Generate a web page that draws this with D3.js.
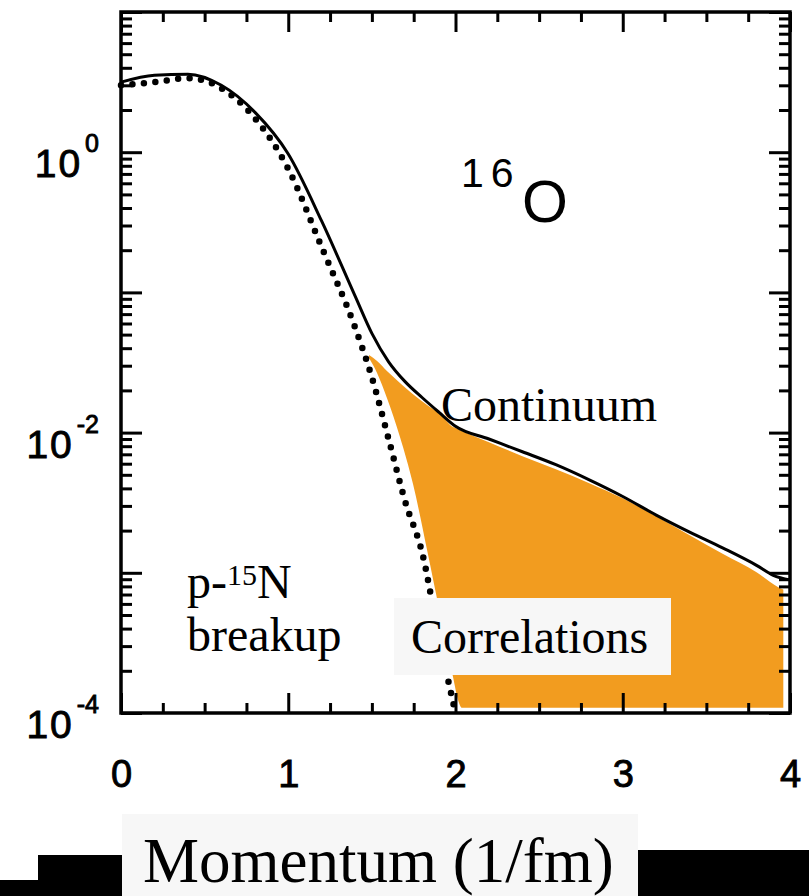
<!DOCTYPE html>
<html>
<head>
<meta charset="utf-8">
<script src="https://cdn.jsdelivr.net/npm/d3@7"></script>
<style>
  html, body { margin: 0; padding: 0; background: #fff; }
  svg { display: block; }
</style>
</head>
<body>
<script>
// Momentum distribution of 16O (log scale), momentum in 1/fm
const momentum  = [0, 0.2, 0.4, 0.6, 0.8, 1.0, 1.2, 1.4, 1.5, 1.6, 1.7, 1.8, 1.9, 2.0,
                   2.2, 2.4, 2.6, 2.8, 3.0, 3.2, 3.4, 3.6, 3.8, 3.9, 4.0];
const totalDist = [3.16, 3.54, 3.6, 3.0, 1.93, 0.97, 0.322, 0.094, 0.051, 0.032, 0.023, 0.0178, 0.014, 0.0111,
                   0.009, 0.0073, 0.0059, 0.0046, 0.0035, 0.00258, 0.00195, 0.0015, 0.00113, 0.00096, 0.00089];

// p-15N breakup (mean-field part), dotted
const mfMomentum = [0, 0.2, 0.4, 0.6, 0.8, 1.0, 1.2, 1.4, 1.5, 1.6, 1.7, 1.8, 1.9, 2.0];
const meanField  = [3.0, 3.16, 3.37, 2.86, 1.75, 0.76, 0.21, 0.056, 0.0248, 0.009, 0.0032, 0.0014, 0.00035, 0.0001];

// Correlations band (upper / lower edges)
const corrMomentum = [1.483, 1.531, 1.59, 1.668, 1.746, 1.83, 1.907, 1.985, 2.015, 2.039,
                      2.2, 2.4, 2.6, 2.8, 3.0, 3.2, 3.4, 3.6, 3.8, 3.93, 3.96];
const corrUpper    = [0.0357, 0.0324, 0.0275, 0.0226, 0.0188, 0.01574, 0.01358, 0.01096, 0.0106, 0.01026,
                      0.00855, 0.00679, 0.00548, 0.00436, 0.0034, 0.00253, 0.00185, 0.00136, 0.00101, 0.00079, 0.00076];
const corrLower    = [0.034, 0.0266, 0.01766, 0.00931, 0.0043, 0.001456, 0.000516, 0.000181, 0.000124, 0.000109,
                      0.000109, 0.000109, 0.000109, 0.000109, 0.000109, 0.000109, 0.000109, 0.000109, 0.000109, 0.000109, 0.000109];

const xMajorTicks = [0, 1, 2, 3, 4];
const xMinorTicks = [0.25, 0.5, 0.75, 1.25, 1.5, 1.75, 2.25, 2.5, 2.75, 3.25, 3.5, 3.75];
const yLabelExponents = [0, -2, -4];

const W = 809, H = 896;
const plot = { left: 121, right: 790, top: 12, bottom: 713 };

const x = d3.scaleLinear().domain([0, 4]).range([plot.left, plot.right]);
const y = d3.scaleLog().domain([1e-4, 1e1]).range([plot.bottom, plot.top]);

const svg = d3.select("body").append("svg")
  .attr("width", W).attr("height", H)
  .attr("viewBox", `0 0 ${W} ${H}`);

svg.append("rect").attr("width", W).attr("height", H).attr("fill", "#fff");

// Correlations band
const band = d3.area()
  .x(d => x(d.p))
  .y0(d => y(d.lo))
  .y1(d => y(d.hi))
  .curve(d3.curveMonotoneX);

svg.append("path")
  .datum(corrMomentum.map((p, i) => ({ p, lo: corrLower[i], hi: corrUpper[i] })))
  .attr("d", band)
  .attr("fill", "#f29c1f");

// Curves
const line = d3.line()
  .x(d => x(d[0]))
  .y(d => y(d[1]))
  .curve(d3.curveMonotoneX);

svg.append("path")
  .datum(momentum.map((p, i) => [p, totalDist[i]]))
  .attr("d", line)
  .attr("fill", "none")
  .attr("stroke", "#000")
  .attr("stroke-width", 3);

svg.append("path")
  .datum(mfMomentum.map((p, i) => [p, meanField[i]]))
  .attr("d", line)
  .attr("fill", "none")
  .attr("stroke", "#000")
  .attr("stroke-width", 6.5)
  .attr("stroke-linecap", "round")
  .attr("stroke-dasharray", "0 11.5");

// Axes (ticks point inward on all four sides)
function styleAxis(g) {
  g.select(".domain").remove();
  g.selectAll(".tick line").attr("stroke", "#000").attr("stroke-width", 3);
}

const tickFont = "'Liberation Sans', Arial, Helvetica, sans-serif";

svg.append("g")
  .attr("transform", `translate(0,${plot.bottom})`)
  .call(d3.axisBottom(x).tickValues(xMajorTicks).tickSizeInner(-20).tickSizeOuter(0)
    .tickPadding(47).tickFormat(d3.format("d")))
  .call(styleAxis)
  .call(g => g.selectAll("text")
    .attr("fill", "#000")
    .attr("stroke", "#000")
    .attr("stroke-width", 0.9)
    .style("font-family", tickFont)
    .style("font-size", "38px"));

svg.append("g")
  .attr("transform", `translate(0,${plot.bottom})`)
  .call(d3.axisBottom(x).tickValues(xMinorTicks).tickSizeInner(-10).tickSizeOuter(0).tickFormat(""))
  .call(styleAxis);

svg.append("g")
  .attr("transform", `translate(0,${plot.top})`)
  .call(d3.axisTop(x).tickValues(xMajorTicks).tickSizeInner(-20).tickSizeOuter(0).tickFormat(""))
  .call(styleAxis);

svg.append("g")
  .attr("transform", `translate(0,${plot.top})`)
  .call(d3.axisTop(x).tickValues(xMinorTicks).tickSizeInner(-10).tickSizeOuter(0).tickFormat(""))
  .call(styleAxis);

const yAll = y.ticks();
const yMajor = yAll.filter(v => Math.abs(Math.log10(v) - Math.round(Math.log10(v))) < 1e-9);
const yMinor = yAll.filter(v => !yMajor.includes(v));

[[d3.axisLeft, plot.left], [d3.axisRight, plot.right]].forEach(([axisFn, pos]) => {
  svg.append("g")
    .attr("transform", `translate(${pos},0)`)
    .call(axisFn(y).tickValues(yMajor).tickSizeInner(-21).tickSizeOuter(0).tickFormat(""))
    .call(styleAxis);
  svg.append("g")
    .attr("transform", `translate(${pos},0)`)
    .call(axisFn(y).tickValues(yMinor).tickSizeInner(-11).tickSizeOuter(0).tickFormat(""))
    .call(styleAxis);
});

// Y tick labels: powers of ten
yLabelExponents.forEach(e => {
  const t = svg.append("text")
    .attr("x", 99)
    .attr("y", y(Math.pow(10, e)) + 25)
    .attr("text-anchor", "end")
    .attr("fill", "#000")
    .attr("stroke", "#000")
    .attr("stroke-width", 0.9)
    .style("font-family", tickFont)
    .style("font-size", "39px");
  t.append("tspan").style("letter-spacing", "2px").text("10");
  t.append("tspan")
    .attr("dx", 3)
    .attr("dy", -25)
    .style("font-size", "25px")
    .text(e < 0 ? "-" + Math.abs(e) : String(e));
});

// Frame
svg.append("rect")
  .attr("x", plot.left).attr("y", plot.top)
  .attr("width", plot.right - plot.left)
  .attr("height", plot.bottom - plot.top)
  .attr("fill", "none")
  .attr("stroke", "#000")
  .attr("stroke-width", 3.5);

// Nucleus label
const nuc = svg.append("text")
  .attr("fill", "#000")
  .style("font-family", tickFont);
nuc.append("tspan").attr("x", 461).attr("y", 187)
  .style("font-size", "41px").style("letter-spacing", "7px").text("16");
nuc.append("tspan").attr("x", 522).attr("y", 222)
  .style("font-size", "59px").text("O");

// Annotations
const serif = "'Liberation Serif', 'Times New Roman', Times, serif";

svg.append("text")
  .attr("x", 441).attr("y", 421)
  .attr("fill", "#000")
  .style("font-family", serif).style("font-size", "48px")
  .text("Continuum");

svg.append("rect")
  .attr("x", 394).attr("y", 598).attr("width", 277).attr("height", 77)
  .attr("fill", "#f7f7f7");
svg.append("text")
  .attr("x", 411).attr("y", 653)
  .attr("fill", "#000")
  .style("font-family", serif).style("font-size", "48px")
  .text("Correlations");

const brk = svg.append("text")
  .attr("x", 187).attr("y", 598)
  .attr("fill", "#000")
  .style("font-family", serif).style("font-size", "48px");
brk.append("tspan").text("p-");
brk.append("tspan").attr("dy", -13).style("font-size", "30px").text("15");
brk.append("tspan").attr("dy", 13).text("N");

svg.append("text")
  .attr("x", 187).attr("y", 651)
  .attr("fill", "#000")
  .style("font-family", serif).style("font-size", "48px")
  .text("breakup");

// Axis title strip
svg.append("path")
  .attr("d", "M0,880 H38 V855 H122 V896 H0 Z")
  .attr("fill", "#000");
svg.append("rect")
  .attr("x", 638).attr("y", 850).attr("width", W - 638).attr("height", H - 850)
  .attr("fill", "#000");
svg.append("rect")
  .attr("x", 122).attr("y", 814).attr("width", 516).attr("height", H - 814)
  .attr("fill", "#f7f7f7");
svg.append("text")
  .attr("x", 143).attr("y", 882)
  .attr("fill", "#000")
  .style("font-family", serif).style("font-size", "63px")
  .text("Momentum (1/fm)");
</script>
</body>
</html>
